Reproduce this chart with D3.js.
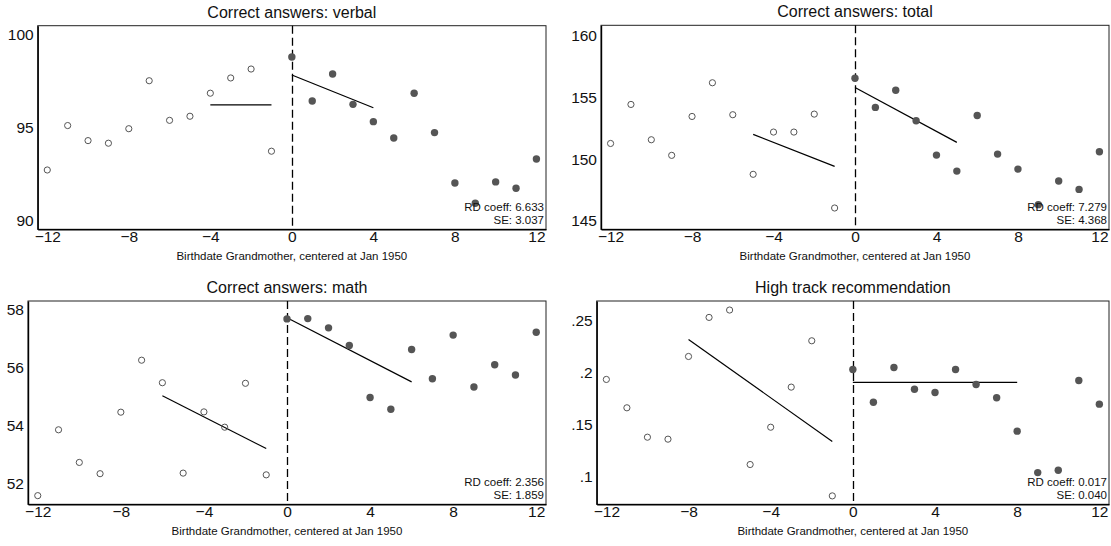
<!DOCTYPE html>
<html lang="en">
<head>
<meta charset="UTF-8">
<title>RD plots</title>
<script src="https://cdn.jsdelivr.net/npm/d3@7/dist/d3.min.js"></script>
<style>
  * { margin: 0; padding: 0; }
  body { background: #fff; }
  svg { display: block; font-family: "Liberation Sans", Arial, sans-serif; }
</style>
</head>
<body>
<svg></svg>
<script>
// bins: birthdate of grandmother, months centered at Jan 1950
const bins = [-12, -11, -10, -9, -8, -7, -6, -5, -4, -3, -2, -1, 0, 1, 2, 3, 4, 5, 6, 7, 8, 9, 10, 11, 12];
const xTicks = [-12, -8, -4, 0, 4, 8, 12];

const verbal = [92.74, 95.13, 94.32, 94.18, 94.96, 97.54, 95.41, 95.63, 96.87, 97.69, 98.17, 93.75,
                98.82, 96.45, 97.90, 96.27, 95.34, 94.46, 96.87, 94.75, 92.04, 90.95, 92.10, 91.76, 93.33];
const total = [151.26, 154.41, 151.56, 150.30, 153.44, 156.16, 153.58, 148.77, 152.18, 152.18, 153.63, 146.05,
               156.53, 154.17, 155.56, 153.09, 150.32, 149.03, 153.52, 150.40, 149.19, 146.32, 148.23, 147.55, 150.59];
const math = [51.57, 53.85, 52.72, 52.33, 54.46, 56.26, 55.48, 52.35, 54.47, 53.94, 55.46, 52.29,
              57.69, 57.70, 57.38, 56.77, 54.97, 54.56, 56.63, 55.62, 57.13, 55.33, 56.10, 55.75, 57.23];
const hightrack = [.1935, .1662, .1379, .1360, .2156, .2532, .2603, .1116, .1475, .1861, .2307, .0814,
                   .2031, .1716, .2050, .1841, .1809, .2031, .1886, .1758, .1437, .1038, .1061, .1925, .1697];

// local linear fits, [x, y] end points, left and right of cutoff
const fitVerbal = [[[-4, 96.24], [-1, 96.24]], [[0, 97.85], [4, 96.09]]];
const fitTotal = [[[-5, 151.99], [-1, 149.41]], [[0, 155.78], [5, 151.35]]];
const fitMath = [[[-6, 55.03], [-1, 53.20]], [[0, 57.73], [6, 55.51]]];
const fitHigh = [[[-8, .232], [-1, .1337]], [[0, .1906], [8, .1906]]];

const titles = ['Correct answers: verbal', 'Correct answers: total', 'Correct answers: math', 'High track recommendation'];
const yTicksVerbal = [90, 95, 100];
const yTicksTotal = [145, 150, 155, 160];
const yTicksMath = [52, 54, 56, 58];
const yTicksHigh = [.1, .15, .2, .25];
const rdCoef = ['6.633', '7.279', '2.356', '0.017'];
const rdSE = ['3.037', '4.368', '1.859', '0.040'];

const svg = d3.select('svg').attr('width', 1111).attr('height', 546);

const panels = [
  { title: titles[0], y: verbal, fit: fitVerbal, ticks: yTicksVerbal, fmt: d3.format('d'), dom: [89.55, 100.5],
    box: { l: 37.7, r: 546, t: 25.7, b: 229.3 }, coef: rdCoef[0], se: rdSE[0] },
  { title: titles[1], y: total, fit: fitTotal, ticks: yTicksTotal, fmt: d3.format('d'), dom: [144.33, 160.8],
    box: { l: 601, r: 1109, t: 25.3, b: 229.3 }, coef: rdCoef[1], se: rdSE[1] },
  { title: titles[2], y: math, fit: fitMath, ticks: yTicksMath, fmt: d3.format('d'), dom: [51.27, 58.31],
    box: { l: 28, r: 546, t: 301, b: 504.3 }, coef: rdCoef[2], se: rdSE[2] },
  { title: titles[3], y: hightrack, fit: fitHigh, ticks: yTicksHigh, fmt: d => d3.format('.2~f')(d).replace(/^0/, ''),
    dom: [0.0733, 0.269], box: { l: 596.7, r: 1109, t: 301, b: 504.3 }, coef: rdCoef[3], se: rdSE[3] }
];

const render = p => {
  const { l, r, t, b } = p.box;
  const x = d3.scaleLinear().domain([-12.47, 12.47]).range([l, r]);
  const y = d3.scaleLinear().domain(p.dom).range([b, t]);
  const g = svg.append('g');
  const cx = (l + r) / 2;

  g.append('text').attr('x', cx).attr('y', t - 8).attr('text-anchor', 'middle')
    .attr('font-size', 16).attr('fill', '#111').text(p.title);

  // plot region
  g.append('rect').attr('x', l).attr('y', t).attr('width', r - l).attr('height', b - t)
    .attr('fill', '#fff').attr('stroke', '#222').attr('stroke-width', 1);

  // y axis
  const ya = g.append('g').attr('transform', `translate(${l},0)`)
    .call(d3.axisLeft(y).tickValues(p.ticks).tickFormat(p.fmt).tickSize(0).tickPadding(4));
  ya.select('.domain').attr('stroke', '#000').attr('stroke-width', 1.4);
  ya.selectAll('text').attr('font-size', 15.5).attr('fill', '#111').attr('font-family', null);

  // x axis
  const xa = g.append('g').attr('transform', `translate(0,${b})`)
    .call(d3.axisBottom(x).tickValues(xTicks).tickFormat(d3.format('d')).tickSize(0).tickPadding(2));
  xa.select('.domain').attr('stroke', '#000').attr('stroke-width', 1.4);
  xa.selectAll('text').attr('font-size', 15.5).attr('fill', '#111').attr('font-family', null);

  g.append('text').attr('x', cx).attr('y', b + 31).attr('text-anchor', 'middle')
    .attr('font-size', 11.5).attr('fill', '#111').text('Birthdate Grandmother, centered at Jan 1950');

  // cutoff
  const x0 = Math.round(x(0)) + 0.5;
  g.append('line').attr('x1', x0).attr('x2', x0).attr('y1', t).attr('y2', b)
    .attr('stroke', '#000').attr('stroke-width', 1.3).attr('stroke-dasharray', '8,4');

  // fit lines
  g.selectAll('.fit').data(p.fit).enter().append('line').attr('class', 'fit')
    .attr('x1', d => x(d[0][0])).attr('y1', d => y(d[0][1]))
    .attr('x2', d => x(d[1][0])).attr('y2', d => y(d[1][1]))
    .attr('stroke', '#000').attr('stroke-width', 1.2);

  const pts = bins.map((d, i) => ({ x: d, y: p.y[i] }));
  g.selectAll('.pt').data(pts).enter().append('circle').attr('class', 'pt')
    .attr('cx', d => x(d.x)).attr('cy', d => y(d.y))
    .attr('r', d => d.x < 0 ? 3.1 : 3.7)
    .attr('fill', d => d.x < 0 ? 'none' : '#555')
    .attr('stroke', d => d.x < 0 ? '#555' : 'none')
    .attr('stroke-width', 1);

  g.append('text').attr('x', r - 2).attr('y', b - 18.5).attr('text-anchor', 'end')
    .attr('font-size', 11.5).attr('fill', '#111').text('RD coeff: ' + p.coef);
  g.append('text').attr('x', r - 2).attr('y', b - 5.5).attr('text-anchor', 'end')
    .attr('font-size', 11.5).attr('fill', '#111').text('SE: ' + p.se);
};

panels.forEach(render);
</script>
</body>
</html>
